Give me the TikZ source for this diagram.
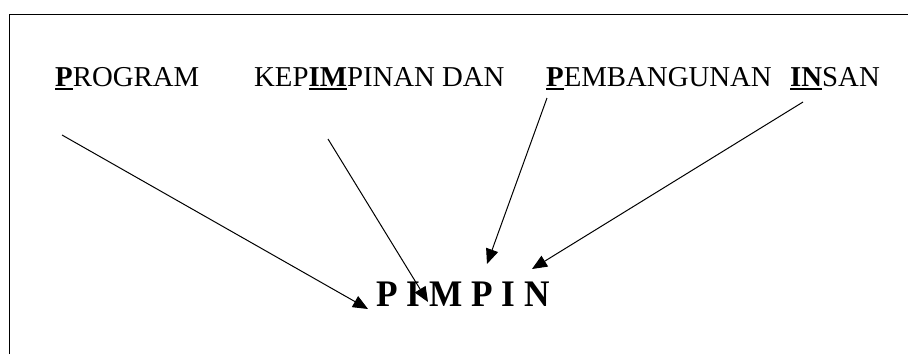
\documentclass[tikz,border=0pt]{standalone}
\usepackage{fontspec}
\setmainfont{Liberation Serif}
\usetikzlibrary{arrows.meta}
\newcommand\ulbold[1]{\leavevmode\vtop{\hbox{\bfseries #1}\kern2.2pt\hrule height 2pt}}
\tikzset{
  word/.style={anchor=base west, inner sep=0pt, font=\fontsize{28.8}{32}\selectfont},
  big/.style={anchor=base west, inner sep=0pt, font=\fontsize{37.5}{42}\selectfont\bfseries},
  arr/.style={line width=1pt, -{Triangle[length=15pt,width=12.5pt]}},
}
\begin{document}
\begin{tikzpicture}[x=1pt,y=-1pt]
\useasboundingbox (0,0) rectangle (908,354);
\draw[line width=1.7pt] (9.5,354) |- (908,14.5);
\node[word] (w1) at (55,86) {\ulbold{P}ROGRAM};
\node[word] (w2) at (254,86) {KEP\ulbold{IM}PINAN DAN};
\node[word] (w3) at (546,86) {\ulbold{P}EMBANGUNAN};
\node[word] (w4) at (790,86) {\ulbold{IN}SAN};
\node[big] (pim) at (376,306) {\scalebox{0.94}[1]{P I M P I N}};
\coordinate (s1) at (62,135);
\coordinate (s2) at (328,139);
\coordinate (s3) at (547,98);
\coordinate (s4) at (803,102);
\coordinate (t1) at (368,309);
\coordinate (t2) at (428,302);
\coordinate (t3) at (487,264);
\coordinate (t4) at (532,269);
\draw[arr] (s1) -- (t1);
\draw[arr] (s2) -- (t2);
\draw[arr] (s3) -- (t3);
\draw[arr] (s4) -- (t4);
\end{tikzpicture}
\end{document}
